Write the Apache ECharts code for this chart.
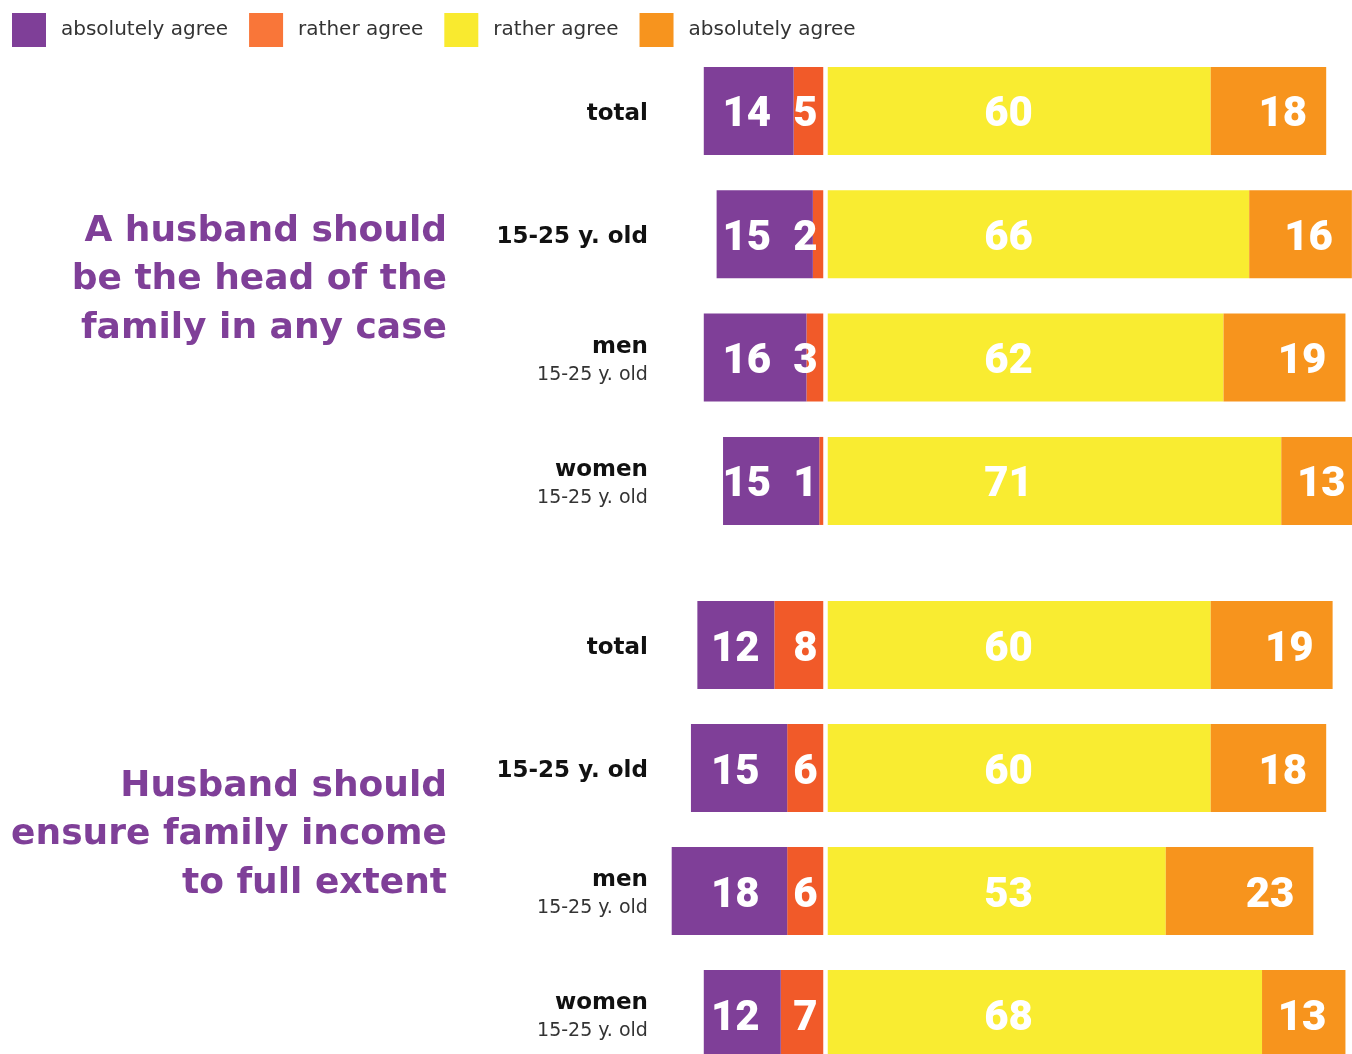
<!DOCTYPE html>
<html><head><meta charset="utf-8">
<script src="https://cdn.jsdelivr.net/npm/echarts@6/dist/echarts.min.js"></script>
<style>html,body{margin:0;padding:0;background:#fff}#c{width:1352px;height:1054px}</style>
</head><body><div id="c"></div>
<script>
// ---- data ----
const categories = ['total', '15-25 y. old', 'men\n15-25 y. old', 'women\n15-25 y. old'];
const legendNames = ['absolutely agree', 'rather agree', 'rather agree', 'absolutely agree'];
const questions = ['A husband should\nbe the head of the\nfamily in any case', 'Husband should\nensure family income\nto full extent'];
// question 1
const q1AbsAgree = [14, 15, 16, 15];
const q1RatherAgree = [5, 2, 3, 1];
const q1RatherDis = [60, 66, 62, 71];
const q1AbsDis = [18, 16, 19, 13];
// question 2
const q2AbsAgree = [12, 15, 18, 12];
const q2RatherAgree = [8, 6, 6, 7];
const q2RatherDis = [60, 60, 53, 68];
const q2AbsDis = [19, 18, 23, 13];

// ---- layout ----
const XMIN = -30, XMAX = 90;
const CENTER = 825.7, GRID_W = 770;
const PX = GRID_W / (XMAX - XMIN);
const GRID_LEFT = CENTER + XMIN * PX;
const grids = [{top: 49.3, height: 493.3}, {top: 583.5, height: 492}];
const purpleLabelAt = [-12.3, -14.1];
const yellowLabelAt = 28.5;
const LABEL_DY = 5;
const COLORS = ['#7f3f98', '#f15a29', '#f9ec31', '#f7941d'];
const LEGEND_COLORS = ['#7f3f98', '#f97639', '#f9ea2f', '#f7941e'];

const groups = [
  [q1AbsAgree, q1RatherAgree, q1RatherDis, q1AbsDis],
  [q2AbsAgree, q2RatherAgree, q2RatherDis, q2AbsDis]
];

const numLabel = {show: true, color: '#fff', fontFamily: 'Roboto', fontWeight: 900, fontSize: 42};
const fmt = p => Math.abs(p.value);

const series = [];
groups.forEach((g, gi) => {
  const [pa, ra, rd, ad] = g;
  const stack = 'st' + gi;
  const base = {type: 'bar', stack, xAxisIndex: gi, yAxisIndex: gi, barWidth: 88, barGap: '0%'};
  series.push(Object.assign({}, base, {
    name: 's2', itemStyle: {color: COLORS[1]},
    label: Object.assign({}, numLabel, {position: 'insideRight', distance: 8, offset: [0, LABEL_DY], formatter: fmt}),
    data: ra.map(v => -v)
  }));
  series.push(Object.assign({}, base, {
    name: 's1', itemStyle: {color: COLORS[0]},
    label: Object.assign({}, numLabel, {position: 'inside', formatter: fmt}),
    data: pa.map((v, i) => ({value: -v, label: {offset: [(purpleLabelAt[gi] + ra[i] + v / 2) * PX, LABEL_DY]}}))
  }));
  series.push(Object.assign({}, base, {
    name: 's3', itemStyle: {color: COLORS[2]},
    label: Object.assign({}, numLabel, {position: 'inside', formatter: fmt}),
    data: rd.map(v => ({value: v, label: {offset: [(yellowLabelAt - v / 2) * PX, LABEL_DY]}})),
    markLine: {silent: true, symbol: 'none', label: {show: false}, animation: false,
      lineStyle: {color: '#fff', width: 4.5, type: 'solid', opacity: 1},
      emphasis: {disabled: true}, data: [{xAxis: 0}]}
  }));
  series.push(Object.assign({}, base, {
    name: 's4', itemStyle: {color: COLORS[3]},
    label: Object.assign({}, numLabel, {position: 'insideRight', distance: 19, offset: [0, LABEL_DY], formatter: fmt}),
    data: ad
  }));
});

const catFmt = v => {
  const parts = v.split('\n');
  return parts.length > 1 ? '{b|' + parts[0] + '}\n{r|' + parts[1] + '}' : '{b|' + v + '}';
};

const option = {
  animation: false,
  backgroundColor: '#fff',
  legend: {
    left: 12, top: 13, itemWidth: 34, itemHeight: 34, itemGap: 21, padding: 0,
    icon: 'rect', selectedMode: false,
    data: ['s1', 's2', 's3', 's4'].map((n, i) => ({name: n, itemStyle: {color: LEGEND_COLORS[i]}})),
    formatter: n => legendNames[['s1', 's2', 's3', 's4'].indexOf(n)],
    textStyle: {fontFamily: 'DejaVu Sans', fontSize: 20, color: '#333', padding: [0, 0, 0, 10]}
  },
  grid: grids.map(g => ({left: GRID_LEFT, width: GRID_W, top: g.top, height: g.height, outerBoundsMode: 'none', containLabel: false})),
  xAxis: grids.map((g, i) => ({type: 'value', gridIndex: i, min: XMIN, max: XMAX, show: false})),
  yAxis: grids.map((g, i) => ({
    type: 'category', gridIndex: i, data: categories, inverse: true,
    axisLine: {show: false}, axisTick: {show: false}, splitLine: {show: false},
    axisLabel: {
      margin: -14.7, align: 'right', formatter: catFmt, padding: [6, 0, 0, 0],
      rich: {
        b: {fontFamily: 'DejaVu Sans', fontWeight: 'bold', fontSize: 23, color: '#111', lineHeight: 28, align: 'right'},
        r: {fontFamily: 'DejaVu Sans', fontSize: 19, color: '#333', lineHeight: 28, align: 'right'}
      }
    }
  })),
  graphic: questions.map((t, i) => ({
    type: 'text', x: 447, y: [280, 835][i], silent: true,
    style: {text: t, fill: '#7f3f98', fontFamily: 'DejaVu Sans', fontWeight: 'bold', fontSize: 36,
      lineHeight: 48.5, align: 'right', verticalAlign: 'middle'}
  })),
  series
};

const chart = echarts.init(document.getElementById('c'), null, {renderer: 'canvas'});
chart.setOption(option);
</script>
</body></html>
